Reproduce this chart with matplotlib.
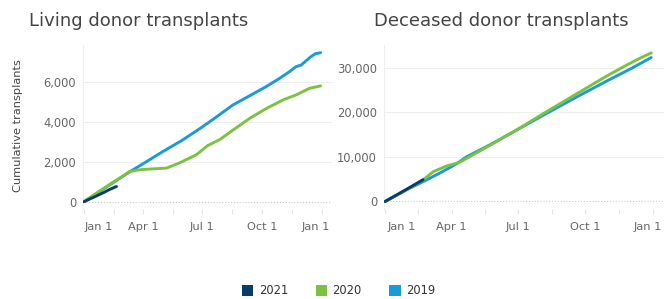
import matplotlib
matplotlib.use("Agg")
import matplotlib.pyplot as plt
from matplotlib.patches import Patch
from matplotlib.transforms import ScaledTranslation

plt.rcParams['font.family'] = ['DejaVu Sans']

# ---------------- data (day of year, cumulative count) ----------------
living_2019_days = [0, 31, 59, 71, 90, 122, 150, 178, 200, 229, 255, 280, 300, 316, 326, 334, 349, 356, 364]
living_2019_vals = [0, 660, 1250, 1510, 1880, 2520, 3050, 3650, 4150, 4835, 5300, 5750, 6150, 6500, 6750, 6830, 7250, 7400, 7450]

living_2020_days = [0, 15, 31, 45, 59, 70, 86, 105, 127, 147, 173, 190, 209, 230, 255, 280, 306, 326, 347, 364]
living_2020_vals = [0, 330, 680, 980, 1260, 1510, 1600, 1640, 1680, 1940, 2350, 2800, 3110, 3600, 4170, 4650, 5085, 5335, 5670, 5790]

living_2021_days = [0, 10, 20, 31, 40, 50]
living_2021_vals = [0, 150, 300, 470, 620, 760]

deceased_2019_days = [0, 31, 52, 75, 98, 111, 143, 175, 222, 260, 300, 338, 364]
deceased_2019_vals = [0, 2750, 4450, 6400, 8500, 10000, 12700, 15600, 19900, 23300, 26800, 30000, 32350]

deceased_2020_days = [0, 31, 52, 66, 84, 102, 120, 143, 175, 218, 260, 300, 324, 345, 364]
deceased_2020_vals = [0, 2800, 4850, 6700, 7980, 8810, 10450, 12600, 15600, 19900, 24000, 27900, 30100, 31900, 33400]

deceased_2021_days = [0, 15, 31, 52]
deceased_2021_vals = [0, 1400, 2900, 4900]

tick_days = [0, 91, 182, 274, 366]
tick_labels = ["Jan 1", "Apr 1", "Jul 1", "Oct 1", "Jan 1"]
minor_tick_days = [45.5, 136.5, 228, 320]

years = ["2021", "2020", "2019"]
colors = {"2021": "#0b3b69", "2020": "#7cc242", "2019": "#1a9ad7"}

# ---------------- figure ----------------
W, H = 664, 299
fig = plt.figure(figsize=(W / 100, H / 100), dpi=100)
fig.patch.set_facecolor("white")

def px_axes(x0, x1, ytop, ybot):
    return fig.add_axes([x0 / W, 1 - ybot / H, (x1 - x0) / W, (ybot - ytop) / H])

ax1 = px_axes(83, 332, 45, 209)
ax2 = px_axes(384, 664, 45, 209)

def style(ax, ylim, yticks, ylabels, series, last_dx, first_dx):
    for yr in ["2019", "2020", "2021"]:
        d, v = series[yr]
        ax.plot(d, v, color=colors[yr], lw=2.1, solid_capstyle="round", zorder=3)
    ax.set_xlim(-1.5, 381.5)
    ax.set_ylim(*ylim)
    for y in yticks[1:]:
        ax.axhline(y, color="#eeeeee", lw=0.8, zorder=0)
    ax.axhline(0, color="#c8c8c8", lw=0.8, ls=(0, (1, 1.6)), zorder=1)
    ax.set_yticks(yticks)
    ax.set_yticklabels(ylabels)
    ax.tick_params(axis="y", length=0, pad=5, labelsize=8.3, labelcolor="#666666")
    ax.set_xticks(tick_days)
    ax.set_xticklabels(tick_labels)
    ax.set_xticks(minor_tick_days, minor=True)
    ax.tick_params(axis="x", which="both", length=3.5, width=0.8, color="#e6e6e6",
                   pad=6, labelsize=8.2, labelcolor="#666666")
    for s in ["top", "right", "bottom"]:
        ax.spines[s].set_visible(False)
    ax.spines["left"].set_color("#eeeeee")
    ax.spines["left"].set_linewidth(0.8)
    labels = ax.get_xticklabels()
    labels[0].set_horizontalalignment("left")
    labels[0].set_transform(labels[0].get_transform() + ScaledTranslation(first_dx / 100, 0, fig.dpi_scale_trans))
    labels[-1].set_horizontalalignment("right")
    labels[-1].set_transform(labels[-1].get_transform() + ScaledTranslation(last_dx / 100, 0, fig.dpi_scale_trans))

style(ax1, (-365, 7835), [0, 2000, 4000, 6000], ["0", "2,000", "4,000", "6,000"],
      {"2019": (living_2019_days, living_2019_vals),
       "2020": (living_2020_days, living_2020_vals),
       "2021": (living_2021_days, living_2021_vals)}, last_dx=8, first_dx=1)
style(ax2, (-1690, 35170), [0, 10000, 20000, 30000], ["0", "10,000", "20,000", "30,000"],
      {"2019": (deceased_2019_days, deceased_2019_vals),
       "2020": (deceased_2020_days, deceased_2020_vals),
       "2021": (deceased_2021_days, deceased_2021_vals)}, last_dx=9, first_dx=2)

# titles
fig.text(29 / W, 1 - 26 / H, "Living donor transplants", fontsize=13, color="#444444",
         ha="left", va="baseline")
fig.text(374 / W, 1 - 26 / H, "Deceased donor transplants", fontsize=13, color="#444444",
         ha="left", va="baseline")

# y-axis label
fig.text(18 / W, 1 - 126 / H, "Cumulative transplants", fontsize=8.2, color="#444444",
         rotation=90, ha="center", va="center")

# legend
handles = [Patch(facecolor=colors[y], edgecolor="none", label=y) for y in years]
fig.legend(handles=handles, loc="center", bbox_to_anchor=(338.5 / W, 1 - 291 / H),
           ncol=3, frameon=False, fontsize=8.3, handlelength=1.0, handleheight=1.0,
           handletextpad=0.45, columnspacing=2.4, borderpad=0, labelcolor="#333333")

fig.savefig("out.png", dpi=100, facecolor="white")
